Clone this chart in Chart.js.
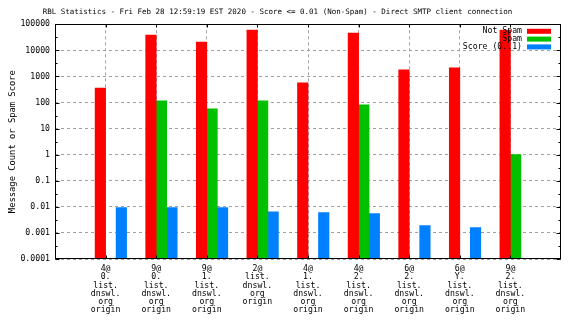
<!DOCTYPE html>
<html>
<head>
<meta charset="utf-8">
<script src="https://cdn.jsdelivr.net/npm/chart.js@4/dist/chart.umd.min.js"></script>
<style>
  html, body { margin: 0; padding: 0; background: #fff; }
</style>
</head>
<body>
<canvas id="rblChart" width="576" height="324"></canvas>
<script>
const MONO = "'DejaVu Sans Mono', monospace";

/* ============================
   DATA
============================ */
// one entry per group, printed line by line under the axis
const hosts = [
  ["4@", "0.", "list.", "dnswl.", "org", "origin"],
  ["9@", "0.", "list.", "dnswl.", "org", "origin"],
  ["9@", "1.", "list.", "dnswl.", "org", "origin"],
  ["2@", "list.", "dnswl.", "org", "origin"],
  ["4@", "1.", "list.", "dnswl.", "org", "origin"],
  ["4@", "2.", "list.", "dnswl.", "org", "origin"],
  ["6@", "2.", "list.", "dnswl.", "org", "origin"],
  ["6@", "Y.", "list.", "dnswl.", "org", "origin"],
  ["9@", "2.", "list.", "dnswl.", "org", "origin"]
];
const notSpam = [360, 39000, 21000, 60000, 570, 46000, 1780, 2120, 60000];
const spam    = [null, 115, 57, 115, null, 81, null, null, 1];
const score   = [0.0093, 0.0093, 0.0093, 0.0065, 0.006, 0.0055, 0.0019, 0.0016, null];
const yTicks  = [0.0001, 0.001, 0.01, 0.1, 1, 10, 100, 1000, 10000, 100000];

const titleText = "RBL Statistics - Fri Feb 28 12:59:19 EST 2020 - Score <= 0.01 (Non-Spam) - Direct SMTP client connection";

/* ============================
   PLUGINS
============================ */
// gnuplot style frame with tics pointing inwards
const frameTics = {
  id: "frameTics",
  afterDatasetsDraw(chart) {
    const { ctx, chartArea: a, scales: { x, y } } = chart;
    const L = Math.round(a.left) + 0.5, R = Math.round(a.right) - 0.5;
    const T = Math.round(a.top) + 0.5, B = Math.round(a.bottom) - 0.5;
    ctx.save();
    ctx.strokeStyle = "#000";
    ctx.lineWidth = 1;
    ctx.beginPath();
    y.ticks.forEach(t => {
      const py = Math.round(y.getPixelForValue(t.value)) + 0.5;
      ctx.moveTo(L, py); ctx.lineTo(L + 4, py);
      ctx.moveTo(R, py); ctx.lineTo(R - 4, py);
      const my = y.getPixelForValue(t.value * Math.sqrt(10));
      if (my > a.top + 1) {
        const m = Math.round(my) + 0.5;
        ctx.moveTo(L, m); ctx.lineTo(L + 2, m);
        ctx.moveTo(R, m); ctx.lineTo(R - 2, m);
      }
    });
    x.ticks.forEach(t => {
      const px = Math.round(x.getPixelForValue(t.value)) + 0.5;
      ctx.moveTo(px, T); ctx.lineTo(px, T + 3);
      ctx.moveTo(px, B); ctx.lineTo(px, B - 3);
    });
    ctx.stroke();
    ctx.strokeRect(L, T, R - L, B - T);
    ctx.restore();
  }
};

// key in the top right corner, text right aligned left of the swatch
const key = {
  id: "key",
  afterDatasetsDraw(chart) {
    const { ctx, chartArea: a } = chart;
    ctx.save();
    ctx.font = `8.2px ${MONO}`;
    ctx.textAlign = "right";
    ctx.textBaseline = "middle";
    chart.data.datasets.filter(d => d.label).forEach((d, i) => {
      const cy = a.top + 7 + i * 7.8;
      ctx.fillStyle = "#000";
      ctx.fillText(d.label, a.right - 39, cy);
      ctx.fillStyle = d.backgroundColor;
      ctx.fillRect(a.right - 34, cy - 2.5, 24, 5);
    });
    ctx.restore();
  }
};

/* ============================
   CHART
============================ */
const pts = vals => vals.map((v, i) => ({ x: i, y: v }));
const tickFont = { family: MONO, size: 8.2, lineHeight: 1.0 };
const gridOpts = { color: "#a0a0a0", lineWidth: 1, drawTicks: false, offset: false };
const borderOpts = { display: false, dash: [3, 3] };

new Chart(document.getElementById("rblChart"), {
  type: "bar",
  data: {
    datasets: [
      // empty slot so each group starts right at its tick, as gnuplot does
      { label: "", data: [] },
      { label: "Not Spam", data: pts(notSpam), backgroundColor: "#ff0000" },
      { label: "Spam", data: pts(spam), backgroundColor: "#00c000" },
      { label: "Score (0..1)", data: pts(score), backgroundColor: "#0080ff" }
    ]
  },
  options: {
    responsive: false,
    animation: false,
    devicePixelRatio: 1,
    barThickness: 10.5,
    layout: { padding: { left: -6, right: 15, top: 0, bottom: 0 } },
    plugins: {
      legend: { display: false },
      tooltip: { enabled: false },
      title: {
        display: true,
        text: titleText,
        color: "#000",
        font: { family: MONO, size: 7.5, weight: "normal", lineHeight: 1.2 },
        padding: { top: 8, bottom: 7.3 }
      }
    },
    scales: {
      x: {
        type: "linear",
        min: -1,
        max: 9,
        offset: false,
        afterBuildTicks: s => { s.ticks = hosts.map((_, i) => ({ value: i })); },
        afterFit: s => { s.height = 65; },
        grid: gridOpts,
        border: borderOpts,
        ticks: {
          color: "#000",
          padding: 6,
          autoSkip: false,
          maxRotation: 0,
          font: tickFont,
          callback: v => hosts[v]
        }
      },
      y: {
        type: "logarithmic",
        min: 0.0001,
        max: 100000,
        afterBuildTicks: s => { s.ticks = yTicks.map(v => ({ value: v })); },
        afterFit: s => { s.width = 61; },
        grid: gridOpts,
        border: borderOpts,
        ticks: {
          color: "#000",
          padding: 5,
          font: tickFont,
          callback: v => String(v)
        },
        title: {
          display: true,
          text: "Message Count or Spam Score",
          color: "#000",
          font: { family: MONO, size: 8.8, lineHeight: 1.2 },
          padding: { top: 13, bottom: 0 }
        }
      }
    }
  },
  plugins: [frameTics, key]
});
</script>
</body>
</html>
